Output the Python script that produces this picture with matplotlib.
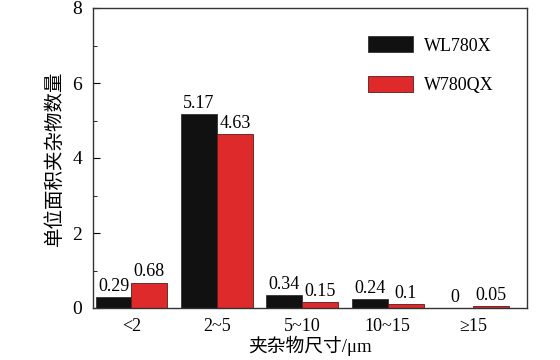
import numpy as np
import matplotlib
matplotlib.use("Agg")
import matplotlib.pyplot as plt
from matplotlib.ticker import MultipleLocator

plt.rcParams['font.family'] = ['Liberation Serif', 'Noto Sans CJK SC']
plt.rcParams['mathtext.fontset'] = 'stix'

# 数据
categories = ['<2', '2~5', '5~10', '10~15', '≥15']
wl780x = [0.29, 5.17, 0.34, 0.24, 0]
w780qx = [0.68, 4.63, 0.15, 0.1, 0.05]
series_names = ['WL780X', 'W780QX']

x = np.arange(len(categories))
w = 0.42

fig = plt.figure(figsize=(5.6, 3.6), dpi=100)
ax = fig.add_axes([93/560, 1 - 308/360, 434/560, 300/360])

b1 = ax.bar(x - w/2, wl780x, w, color='#111111', edgecolor='#333333', linewidth=0.6, label=series_names[0])
b2 = ax.bar(x + w/2, w780qx, w, color='#de2a2a', edgecolor='#5a1a1a', linewidth=0.6, label=series_names[1])

for bars, vals in [(b1, wl780x), (b2, w780qx)]:
    for rect, v in zip(bars, vals):
        ax.text(rect.get_x() + rect.get_width()/2, v + 0.06, f'{v:g}',
                ha='center', va='bottom', fontsize=13)

ax.set_xlim(-0.45, 4.63)
ax.set_ylim(0, 8)
ax.set_xticks(x)
ax.set_xticklabels(categories, fontsize=13)
ax.tick_params(axis='x', length=0, pad=7)
ax.yaxis.set_major_locator(MultipleLocator(2))
ax.yaxis.set_minor_locator(MultipleLocator(1))
ax.tick_params(axis='y', which='major', direction='in', length=5, labelsize=14, pad=8)
ax.tick_params(axis='y', which='minor', direction='in', length=3)
for s in ax.spines.values():
    s.set_linewidth(1.0)
    s.set_color('#333333')

ax.set_xlabel('夹杂物尺寸/μm', fontsize=13.5, labelpad=1)
ax.set_ylabel('单位面积夹杂物数量', fontsize=14, labelpad=6)

ax.legend(loc='upper right', frameon=False, fontsize=13, handlelength=2.5, handleheight=1.0,
          handletextpad=0.6, labelspacing=1.2, borderaxespad=0.5, bbox_to_anchor=(0.96, 0.96))

fig.savefig('out.png', dpi=100)
